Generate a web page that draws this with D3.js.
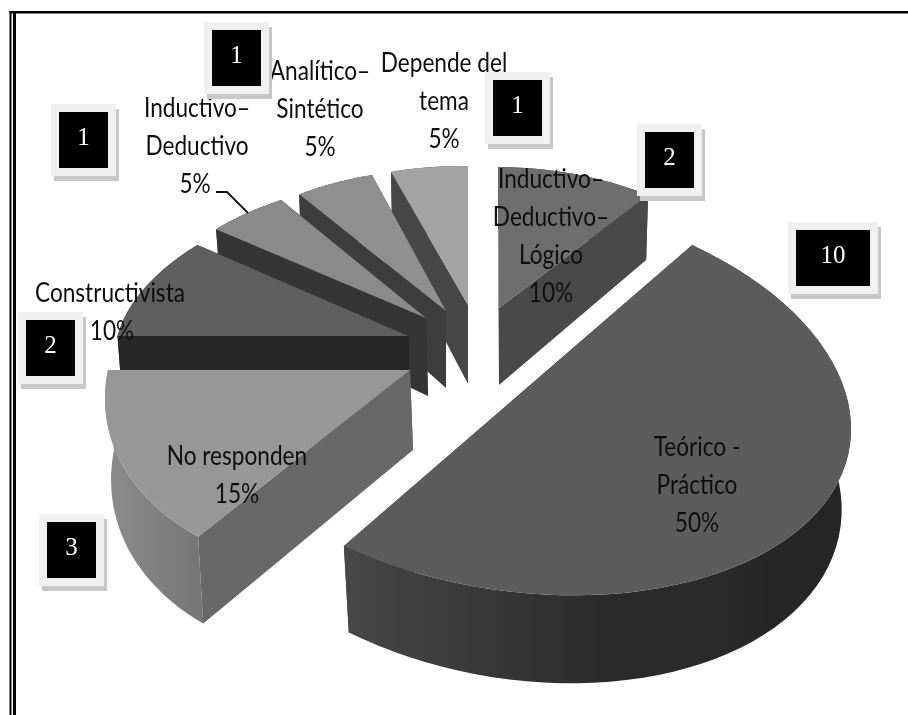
<!DOCTYPE html>
<html><head><meta charset="utf-8">
<script src="https://cdnjs.cloudflare.com/ajax/libs/d3/7.8.5/d3.min.js"></script>
<style>html,body{margin:0;padding:0;background:#fff}svg{display:block}</style>
</head><body><div id="c"></div>
<script>
// ---- data ----
const categories = ["Inductivo–Deductivo–Lógico","Teórico - Práctico","No responden","Constructivista","Inductivo–Deductivo","Analítico–Sintético","Depende del tema"];
const counts = [2,10,3,2,1,1,1];
const percents = ["10%","50%","15%","10%","5%","5%","5%"];
const labelLines = [["Inductivo–","Deductivo–","Lógico"],["Teórico -","Práctico"],["No responden"],["Constructivista"],["Inductivo–","Deductivo"],["Analítico–","Sintético"],["Depende del","tema"]];

// ---- layout and style ----
const W=908,H=715;
// per-slice view of the exploded 3D pie: apex, rim frame, extrusion depth
const frames=[
 {cx:499,cy:308,a:255,sh:1,b:141,sv:2,d0:77,ds:15,dx:0,s:.987,top:"#6e6e6e",face:"#484848",rim:[[0,"#484848"],[1,"#484848"]]},
 {cx:518,cy:395.5,a:332,sh:26,b:199,sv:18,d0:80,ds:8,dx:0,s:.972,top:"#5c5c5c",face:"#404040",rim:[[0,"#474747"],[.5,"#2c2c2c"],[1,"#262626"]]},
 {cx:410,cy:370,a:302,sh:-42.5,b:206,sv:0,d0:80,ds:8.6,dx:3,s:.99,top:"#979797",face:"#676767",rim:[[0,"#8c8c8c"],[1,"#757575"]]},
 {cx:408.5,cy:336,a:291,sh:-41.5,b:155,sv:0,d0:70,ds:8,dx:1,s:.985,top:"#5f5f5f",face:"#262626",rim:[[0,"#262626"],[1,"#262626"]]},
 {cx:426,cy:318,a:274,sh:-20,b:140,sv:8,d0:78,ds:15,dx:2,s:.985,top:"#8a8a8a",face:"#363636",rim:[[0,"#363636"],[1,"#363636"]]},
 {cx:446,cy:311,a:258,sh:-6,b:142,sv:3,d0:77,ds:15,dx:0,s:.985,top:"#8f8f8f",face:"#3c3c3c",rim:[[0,"#3c3c3c"],[1,"#3c3c3c"]]},
 {cx:468,cy:305,a:249,sh:0,b:139,sv:3,d0:79,ds:12,dx:0,s:.985,top:"#a3a3a3",face:"#464646",rim:[[0,"#464646"],[1,"#464646"]]}
];
const paintOrder=[0,6,5,4,3,2,1];
const labelPos=[{x:551,y:188},{x:697,y:456},{x:237,y:465},{x:110,y:302},{x:197,y:117},{x:320,y:80},{x:444,y:72}];
const pctShift=[0,0,0,2,-2,0,0];
const boxes=[{n:2,x:645,y:132,w:49},{n:1,x:493,y:80,w:49},{n:1,x:212,y:30,w:49},{n:1,x:59,y:112,w:49},{n:2,x:26,y:320,w:49},{n:3,x:47,y:522,w:49},{n:10,x:796,y:230,w:74}];
const lineH=38, squeeze=.87;

const svg=d3.select("#c").append("svg").attr("width",W).attr("height",H).attr("viewBox",[0,0,W,H]);
const defs=svg.append("defs");
defs.append("filter").attr("id","soft").attr("x",0).attr("y",0).attr("width",1).attr("height",1)
  .attr("filterUnits","userSpaceOnUse").attr("width",W).attr("height",H)
  .append("feGaussianBlur").attr("stdDeviation",.4);
svg.append("rect").attr("width",W).attr("height",H).attr("fill","#fff");
const root=svg.append("g").attr("filter","url(#soft)");

// page border
root.append("rect").attr("x",9.5).attr("y",11).attr("width",W-9.5).attr("height",2.5).attr("fill","#000");
root.append("rect").attr("x",9.5).attr("y",11).attr("width",2).attr("height",H-11).attr("fill","#000");
root.append("rect").attr("x",13).attr("y",13).attr("width",3).attr("height",H-13).attr("fill","#000");

// pie angles
const arcs=d3.pie().sort(null).value(d=>d)(counts);
const line=d3.line().x(d=>d[0]).y(d=>d[1]);
function topPt(f,t){const X=Math.sin(t),Y=-Math.cos(t);return [f.cx+f.a*X+f.sh*Y,f.cy+f.b*Y+f.sv*X];}
function basePt(f,t){const p=topPt(f,t),Y=-Math.cos(t);return [f.cx+f.dx+(p[0]-f.cx)*f.s,p[1]+f.d0+f.ds*Y];}
const apexBase=f=>[f.cx+f.dx,f.cy+f.d0];

const g=root.append("g").attr("class","pie");
paintOrder.forEach(i=>{
  const f=frames[i],A=arcs[i];
  const ts=d3.range(0,1.0001,1/60).map(u=>d3.interpolateNumber(A.startAngle,A.endAngle)(u));
  const gid="rim"+i;
  const lg=defs.append("linearGradient").attr("id",gid).attr("x1",0).attr("x2",1).attr("y1",0).attr("y2",0);
  f.rim.forEach(s=>lg.append("stop").attr("offset",s[0]).attr("stop-color",s[1]));
  // cut faces
  [A.startAngle,A.endAngle].forEach(t=>{
    g.append("path").attr("fill",f.face)
     .attr("d",line([[f.cx,f.cy],topPt(f,t),basePt(f,t),apexBase(f)])+"Z");
  });
  // rim
  const upper=ts.map(t=>topPt(f,t)), lower=ts.map(t=>basePt(f,t)).reverse();
  g.append("path").attr("fill",`url(#${gid})`).attr("d",line(upper.concat(lower))+"Z");
  // top
  g.append("path").attr("fill",f.top).attr("d",line([[f.cx,f.cy]].concat(upper))+"Z");
});

// leader line
root.append("path").attr("fill","none").attr("stroke","#111").attr("stroke-width",1.8)
  .attr("d",line([[216,192],[227,192],[248,213]]));

// labels
const font="Lato, 'Open Sans', sans-serif";
labelLines.forEach((ls,i)=>{
  const p=labelPos[i];
  const all=ls.concat([percents[i]]);
  all.forEach((t,k)=>{
    const dx=(k===all.length-1)?pctShift[i]:0;
    root.append("text").attr("transform",`translate(${p.x+dx},${p.y+k*lineH}) scale(${squeeze},1)`)
      .attr("text-anchor","middle").attr("font-family",font).attr("font-size",26).attr("fill","#111").text(t);
  });
});

// count boxes
const bx=root.append("g");
boxes.forEach(b=>{
  const h=56,m=8;
  bx.append("rect").attr("x",b.x-m+3).attr("y",b.y-m+5).attr("width",b.w+2*m).attr("height",h+2*m).attr("fill","#c8c8c8");
  bx.append("rect").attr("x",b.x-m).attr("y",b.y-m).attr("width",b.w+2*m).attr("height",h+2*m).attr("fill","#f0f0f0");
  bx.append("rect").attr("x",b.x).attr("y",b.y).attr("width",b.w).attr("height",h).attr("fill","#000");
  bx.append("text").attr("x",b.x+b.w/2).attr("y",b.y+33).attr("text-anchor","middle")
    .attr("font-family","'Liberation Serif',serif").attr("font-size",25).attr("fill","#fff").text(b.n);
});
</script></body></html>
